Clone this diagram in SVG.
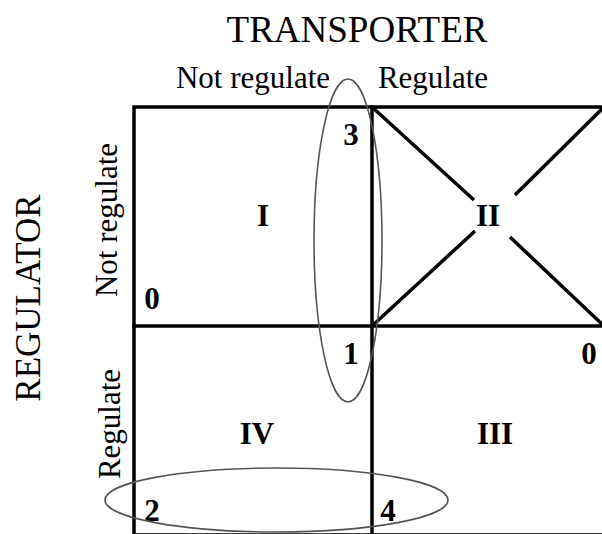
<svg xmlns="http://www.w3.org/2000/svg" width="602" height="534" viewBox="0 0 602 534">
<style>
.t{font-family:"Liberation Serif","Times New Roman",serif;fill:#000}
.h{font-size:37px}
.v{font-size:35px}
.s{font-size:31px}
.b{font-size:31px;font-weight:bold}
.g{stroke:#000;stroke-width:3.5;fill:none;stroke-linecap:square}
.x{stroke:#000;stroke-width:3.5;fill:none}
.e{stroke:#555;stroke-width:1.6;fill:none}
</style>
<rect width="602" height="534" fill="#fff"/>
<g id="labels">
<text class="t h" x="357" y="42" text-anchor="middle">TRANSPORTER</text>
<text class="t s" x="253" y="88" text-anchor="middle">Not regulate</text>
<text class="t s" x="433" y="88" text-anchor="middle">Regulate</text>
<text class="t v" transform="translate(40,298) rotate(-90)" text-anchor="middle">REGULATOR</text>
<text class="t s" transform="translate(117,220) rotate(-90)" text-anchor="middle">Not regulate</text>
<text class="t s" transform="translate(120,424) rotate(-90)" text-anchor="middle">Regulate</text>
</g>
<g id="grid">
<rect class="g" x="134" y="107" width="470" height="428"/>
<line class="g" x1="372" y1="107" x2="372" y2="535"/>
<line class="g" x1="134" y1="326" x2="604" y2="326"/>
</g>
<g id="quadrant-I">
<text class="t b" x="263" y="226" text-anchor="middle">I</text>
<text class="t b" x="351" y="145" text-anchor="middle">3</text>
<text class="t b" x="152" y="309" text-anchor="middle">0</text>
</g>
<g id="quadrant-II">
<line class="x" x1="372" y1="107" x2="474" y2="200"/>
<line class="x" x1="604" y1="107" x2="515" y2="195"/>
<line class="x" x1="372" y1="326" x2="475" y2="231"/>
<line class="x" x1="510" y1="237" x2="604" y2="326"/>
<text class="t b" x="488" y="226" text-anchor="middle">II</text>
</g>
<g id="quadrant-III">
<text class="t b" x="495" y="444" text-anchor="middle">III</text>
<text class="t b" x="589" y="364" text-anchor="middle">0</text>
</g>
<g id="quadrant-IV">
<text class="t b" x="257" y="444" text-anchor="middle">IV</text>
<text class="t b" x="351" y="364" text-anchor="middle">1</text>
<text class="t b" x="152" y="521" text-anchor="middle">2</text>
<text class="t b" x="388" y="521" text-anchor="middle">4</text>
</g>
<g id="connectors">
<ellipse class="e" cx="348" cy="240.5" rx="34" ry="161.5"/>
<ellipse class="e" cx="276.5" cy="500" rx="171.5" ry="32"/>
</g>
</svg>
